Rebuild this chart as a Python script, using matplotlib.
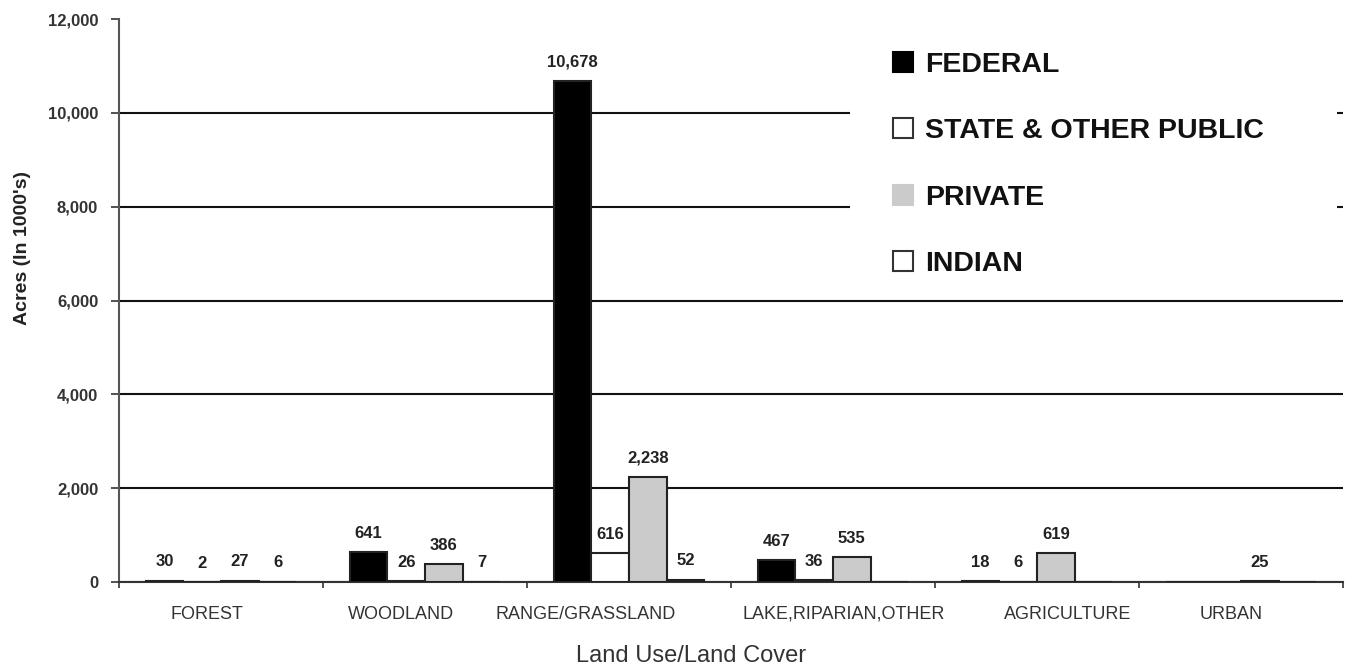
import numpy as np
import matplotlib
matplotlib.use("Agg")
import matplotlib.pyplot as plt
from matplotlib.patches import Patch, Rectangle

plt.rcParams['font.family'] = ['Liberation Sans', 'DejaVu Sans']

categories = ["FOREST", "WOODLAND", "RANGE/GRASSLAND", "LAKE,RIPARIAN,OTHER", "AGRICULTURE", "URBAN"]
series_names = ["FEDERAL", "STATE & OTHER PUBLIC", "PRIVATE", "INDIAN"]
federal = [30, 641, 10678, 467, 18, None]
state_public = [2, 26, 616, 36, 6, None]
private = [27, 386, 2238, 535, 619, 25]
indian = [6, 7, 52, None, None, None]
yticks = [0, 2000, 4000, 6000, 8000, 10000, 12000]

series = [federal, state_public, private, indian]
facecolors = ["#000000", "#ffffff", "#cbcbcb", "#ffffff"]
legend_edges = ["#000000", "#333333", "#cbcbcb", "#333333"]
# horizontal nudges of the category captions (in category widths), as in the original layout
label_shift = np.array([-0.07, -0.12, -0.215, 0.05, 0.15, -0.05])

fig = plt.figure(figsize=(13.45, 6.66), dpi=100)
ax = fig.add_axes([119/1345, 1-582/666, 1224/1345, 563/666])

n = len(categories)
x = np.arange(n) + 0.5
w = 0.185
offsets = (np.arange(4) - 1.5) * w

for vals, off, fc in zip(series, offsets, facecolors):
    v = np.array([np.nan if a is None else a for a in vals], dtype=float)
    ax.bar(x + off, np.nan_to_num(v), width=w, color=fc, edgecolor="#222222",
           linewidth=1.5, zorder=3)
    for xi, vi in zip(x + off, v):
        if np.isnan(vi):
            continue
        ax.annotate(f"{int(vi):,}", (xi, vi), xytext=(0, 13.5), textcoords="offset points",
                    ha="center", va="center", fontsize=12, fontweight="bold",
                    color="#222222", zorder=5)

ax.set_xlim(0, n)
ax.set_ylim(0, 12000)
ax.set_yticks(yticks)
ax.set_yticklabels([f"{t:,}" for t in yticks])
ax.yaxis.grid(True, color="#111111", linewidth=1.5, zorder=0)
ax.set_axisbelow(True)
ax.get_ygridlines()[-1].set_visible(False)

ax.set_xticks(x + label_shift)
ax.set_xticklabels(categories)
ax.set_xticks(np.arange(n + 1), minor=True)
ax.tick_params(axis="x", which="major", length=0, pad=17, labelsize=13, labelcolor="#333333")
ax.tick_params(axis="x", which="minor", length=4, width=1.2, direction="out", color="#333333")
ax.tick_params(axis="y", length=6, width=1.2, direction="out", pad=9, labelsize=12,
               labelcolor="#333333", color="#333333")
for lab in ax.get_yticklabels():
    lab.set_fontweight("bold")

for s in ["top", "right"]:
    ax.spines[s].set_visible(False)
ax.spines["left"].set_color("#555555")
ax.spines["left"].set_linewidth(1.5)
ax.spines["bottom"].set_color("#333333")
ax.spines["bottom"].set_linewidth(1.5)

ax.set_ylabel("Acres (In 1000's)", fontsize=14, fontweight="bold", color="#222222")
ax.yaxis.set_label_coords(-0.072, 0.593)
ax.set_xlabel("Land Use/Land Cover", fontsize=17, color="#333333")
ax.xaxis.set_label_coords(0.467, -0.112)

# white backdrop behind the legend
ax.add_patch(Rectangle((0.597, 0.52), 0.398, 0.46, transform=ax.transAxes,
                       facecolor="white", edgecolor="none", zorder=1))

handles = [Patch(facecolor=fc, edgecolor=ec, linewidth=1.5) for fc, ec in zip(facecolors, legend_edges)]
leg = ax.legend(handles, series_names, loc="upper left", bbox_to_anchor=(0.621, 0.967),
                frameon=False, borderpad=0, handlelength=0.7, handleheight=0.7,
                handletextpad=0.4, labelspacing=1.42,
                prop={"size": 20.5, "weight": "bold"})
for t in leg.get_texts():
    t.set_color("#111111")

fig.savefig("out.png", dpi=100, facecolor="white")
